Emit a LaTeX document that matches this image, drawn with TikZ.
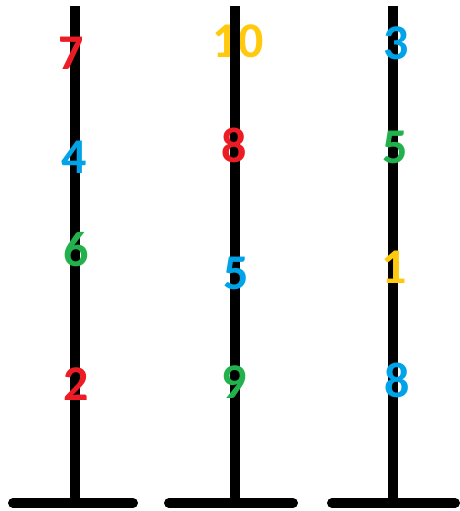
\documentclass[tikz,border=0pt]{standalone}
\usepackage{fontspec}
\setmainfont{Carlito}
\definecolor{pred}{RGB}{237,28,36}
\definecolor{pblue}{RGB}{0,162,232}
\definecolor{pgreen}{RGB}{34,177,76}
\definecolor{pyellow}{RGB}{255,201,14}
\tikzset{
  pole/.style={line width=10pt, black},
  base/.style={line width=10pt, black, line cap=round},
  num/.style={font=\fontsize{50}{50}\selectfont\bfseries, inner sep=0pt, anchor=center}
}
\begin{document}
\begin{tikzpicture}[x=1pt,y=-1pt]
\useasboundingbox (0,0) rectangle (459,511);
% number drawn beneath its pole
\node[num, text=pyellow] (b10) at (238,41) {10};
% poles
\coordinate (t1) at (75,6);   \coordinate (b1) at (75,503);
\coordinate (t2) at (235,6);  \coordinate (b2) at (235,503);
\coordinate (t3) at (393,6);  \coordinate (b3) at (393,503);
\draw[pole] (t1) -- (b1);
\draw[pole] (t2) -- (b2);
\draw[pole] (t3) -- (b3);
\draw[base] (13,503) -- (133,503);
\draw[base] (169,503) -- (293,503);
\draw[base] (332,503) -- (455,503);
% numbers column 1
\node[num, text=pred]    (a7) at (71,53)  {7};
\node[num, text=pblue]   (a4) at (74,157) {4};
\node[num, text=pgreen]  (a6) at (76,250) {6};
\node[num, text=pred]    (a2) at (76,384) {2};
% column 2
\node[num, text=pred]    (b8) at (234,145) {8};
\node[num, text=pblue]   (b5) at (236,273) {5};
\node[num, text=pgreen]  (b9) at (234,382) {9};
% column 3
\node[num, text=pblue]   (c3) at (396,43)  {3};
\node[num, text=pgreen]  (c5) at (395,147) {5};
\node[num, text=pyellow] (c1) at (394,267) {1};
\node[num, text=pblue]   (c8) at (397,380) {8};
\end{tikzpicture}
\end{document}
